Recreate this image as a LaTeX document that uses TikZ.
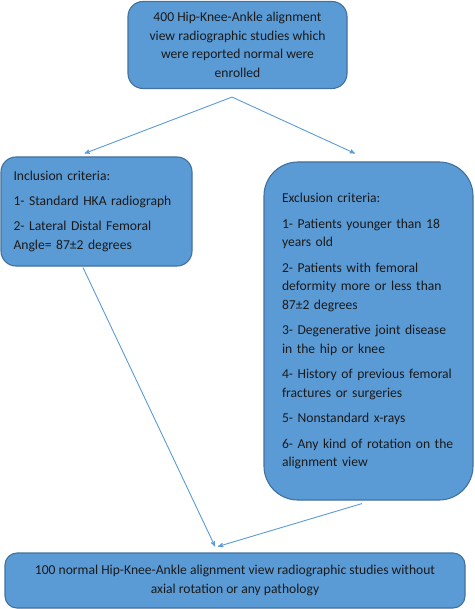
\documentclass[tikz,border=0pt]{standalone}
\usepackage{fontspec}
\setmainfont{Carlito}
\usetikzlibrary{positioning,shapes,arrows}
\definecolor{boxblue}{HTML}{5B9BD5}
\definecolor{boxline}{HTML}{41719C}
\definecolor{inkgray}{HTML}{1A1A1A}
\tikzstyle{stage}=[rectangle, rounded corners=15pt, draw=boxline, line width=1.1pt, fill=boxblue, text=inkgray, font=\fontsize{13.6}{18.5}\selectfont]

\begin{document}
\begin{tikzpicture}[
        x=1pt, y=-1pt,
        line/.style={->, >=stealth', draw=boxblue, line width=0.9pt},
      ]
      \useasboundingbox (0,0) rectangle (474,609);
      \node (Enrolled) [stage, minimum width=219pt, minimum height=87pt, align=center] at (237.5,45)
            {
              400 Hip-Knee-Ankle alignment\\
              view radiographic studies which\\
              were reported normal were\\
              enrolled
            };
      \node (Inclusion) [stage, minimum width=191pt, minimum height=109pt, text width=166pt, align=left] at (96.5,211.5)
            {
              Inclusion criteria:\\[6.5pt]
              1- Standard HKA radiograph\\[6.5pt]
              2- Lateral Distal Femoral\\
              Angle= 87±2 degrees
            };
      \node (Exclusion) [stage, rounded corners=34pt, minimum width=209pt, minimum height=338pt, text width=173pt, align=left] at (368.5,331)
            {
              Exclusion criteria:\\[7pt]
              1- Patients younger than 18\\
              years old\\[7pt]
              2- Patients with femoral\\
              deformity more or less than\\
              87±2 degrees\\[7pt]
              3- Degenerative joint disease\\
              in the hip or knee\\[7pt]
              4- History of previous femoral\\
              fractures or surgeries\\[7pt]
              5- Nonstandard x-rays\\[7pt]
              6- Any kind of rotation on the\\
              alignment view
            };
      \node (Normal) [stage, rounded corners=12pt, minimum width=460pt, minimum height=55pt, align=center] at (235,580.5)
            {
              100 normal Hip-Knee-Ankle alignment view radiographic studies without\\
              axial rotation or any pathology
            };
      \coordinate (Fork) at ([xshift=-5.5pt, yshift=-8pt]Enrolled.south);
      \draw [line] (Fork) to ([xshift=-12pt, yshift=3pt]Inclusion.north);
      \draw [line] (Fork) to ([xshift=-13.5pt, yshift=8pt]Exclusion.north);
      \draw [line] ([xshift=-13.5pt, yshift=-1pt]Inclusion.south) to ([xshift=-20pt, yshift=6pt]Normal.north);
      \draw [line] ([xshift=-6.5pt, yshift=-3pt]Exclusion.south) to ([xshift=-17pt, yshift=6pt]Normal.north);
    \end{tikzpicture}
\end{document}
